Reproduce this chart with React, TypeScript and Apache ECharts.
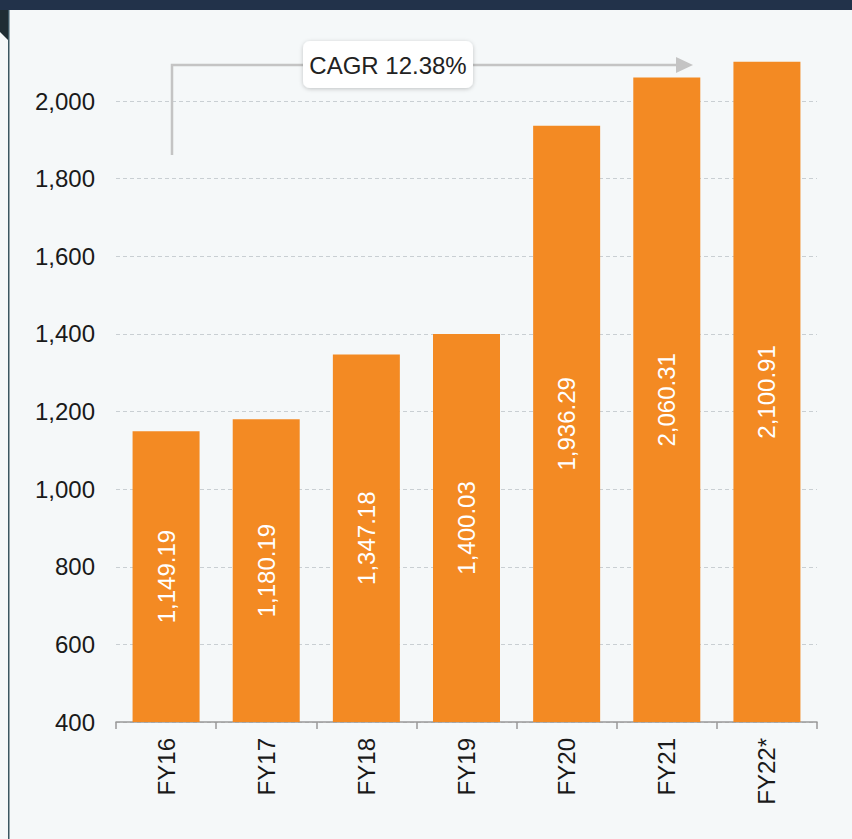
import React, { useEffect, useRef } from "react";
import * as echarts from "echarts";

const categories = ["FY16", "FY17", "FY18", "FY19", "FY20", "FY21", "FY22*"];
const values = [1149.19, 1180.19, 1347.18, 1400.03, 1936.29, 2060.31, 2100.91];
const yTicks = [400, 600, 800, 1000, 1200, 1400, 1600, 1800, 2000, 2200];
const cagrText = "CAGR 12.38%";

const FONT = "'Liberation Sans', Arial, sans-serif";
const GRID_COLOR = "#c9cfd3";

export default function App() {
  const ref = useRef<HTMLDivElement>(null);
  useEffect(() => {
    document.body.style.margin = "0";
    const chart = echarts.init(ref.current!, null, { renderer: "svg" });
    const lastTick = yTicks[yTicks.length - 1];
    chart.setOption({
      animation: false,
      backgroundColor: "#f5f8f9",
      textStyle: { fontFamily: FONT },
      grid: { left: 116, right: 35, top: 23.4, bottom: 117 },
      xAxis: {
        type: "category",
        data: categories,
        axisLine: { lineStyle: { color: "#999999", width: 1.5 } },
        axisTick: { show: true, length: 7, lineStyle: { color: "#999999", width: 1.5 } },
        axisLabel: {
          rotate: 90,
          margin: 16,
          fontSize: 24,
          color: "#1a1a1a",
          fontFamily: FONT,
        },
      },
      yAxis: {
        type: "value",
        min: yTicks[0],
        max: lastTick,
        interval: 200,
        axisLine: { show: false },
        axisTick: { show: false },
        axisLabel: {
          margin: 21,
          fontSize: 24,
          color: "#1a1a1a",
          fontFamily: FONT,
          formatter: (v: number) => (v === lastTick ? "" : v.toLocaleString("en-US")),
        },
        splitLine: {
          lineStyle: {
            color: yTicks.map((t) => (t === lastTick ? "rgba(0,0,0,0)" : GRID_COLOR)),
            type: [4, 3],
            width: 1,
          },
        },
      },
      series: [
        {
          type: "bar",
          data: values,
          barWidth: 67,
          itemStyle: { color: "#f38a23" },
          label: {
            show: true,
            position: "inside",
            rotate: 90,
            color: "#ffffff",
            fontSize: 24,
            fontFamily: FONT,
            formatter: (p: any) =>
              Number(p.value).toLocaleString("en-US", {
                minimumFractionDigits: 2,
                maximumFractionDigits: 2,
              }),
          },
        },
      ],
      graphic: [
        {
          type: "rect",
          shape: { x: 0, y: 0, width: 852, height: 10 },
          style: { fill: "#22324a" },
          z: 10,
        },
        {
          type: "polygon",
          shape: { points: [[0, 10], [8, 10], [8, 40], [0, 32]] },
          style: { fill: "#1f2d33" },
          z: 10,
        },
        {
          type: "line",
          shape: { x1: 8.75, y1: 10, x2: 8.75, y2: 839 },
          style: { stroke: "#3b5661", lineWidth: 1.5 },
          z: 10,
        },
        {
          type: "polyline",
          shape: { points: [[172, 155], [172, 65], [679, 65]] },
          style: { stroke: "#c4c4c4", lineWidth: 2.5, fill: null },
          z: 10,
        },
        {
          type: "polygon",
          shape: { points: [[676, 57], [693, 65], [676, 73]] },
          style: { fill: "#c4c4c4" },
          z: 10,
        },
        {
          type: "rect",
          shape: { x: 303, y: 41, width: 170, height: 47, r: 7 },
          style: {
            fill: "#ffffff",
            shadowBlur: 4,
            shadowOffsetY: 1,
            shadowColor: "rgba(0,0,0,0.22)",
          },
          z: 11,
        },
        {
          type: "text",
          x: 388,
          y: 65,
          style: {
            text: cagrText,
            fontSize: 24,
            fontFamily: FONT,
            fill: "#222222",
            align: "center",
            verticalAlign: "middle",
          },
          z: 12,
        },
      ],
    });
    return () => chart.dispose();
  }, []);
  return <div ref={ref} style={{ width: 852, height: 839 }} />;
}
